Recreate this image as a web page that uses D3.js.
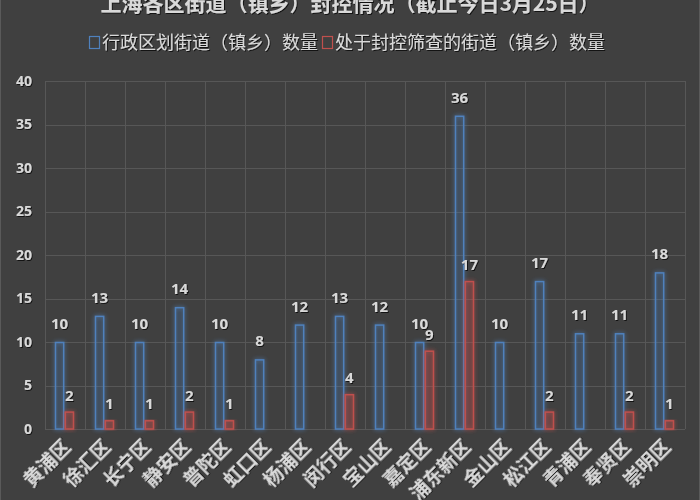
<!DOCTYPE html>
<html>
<head>
<meta charset="utf-8">
<script src="https://cdn.jsdelivr.net/npm/d3@7"></script>
<style>
  html, body { margin: 0; padding: 0; background: #404040; }
  svg { display: block; }
</style>
</head>
<body>
<div id="chart"></div>
<script>
// données
const districts = ["黄浦区", "徐汇区", "长宁区", "静安区", "普陀区", "虹口区", "杨浦区", "闵行区",
  "宝山区", "嘉定区", "浦东新区", "金山区", "松江区", "青浦区", "奉贤区", "崇明区"];
const totalStreets = [10, 13, 10, 14, 10, 8, 12, 13, 12, 10, 36, 10, 17, 11, 11, 18];
const lockedStreets = [2, 1, 1, 2, 1, 0, 0, 4, 0, 9, 17, 0, 2, 0, 2, 1];
const seriesNames = ["行政区划街道（镇乡）数量", "处于封控筛查的街道（镇乡）数量"];
const yTicks = [0, 5, 10, 15, 20, 25, 30, 35, 40];
const title = "上海各区街道（镇乡）封控情况（截止今日3月25日）";

const W = 700, H = 500;
const margin = { top: 81, right: 15, bottom: 71, left: 45 };
const width = W - margin.left - margin.right,
      height = H - margin.top - margin.bottom;

const blue = "#4f81bd", red = "#c0504d";
const cjk = "'Noto Sans CJK SC', 'Noto Sans', sans-serif";

const svg = d3.select("#chart").append("svg")
  .attr("width", W).attr("height", H);

svg.append("rect").attr("width", W).attr("height", H).attr("fill", "#404040");
svg.append("rect").attr("x", 0.5).attr("y", -1).attr("width", W - 1).attr("height", H + 2)
  .attr("fill", "none").attr("stroke", "#5a5a5a");

// effet de lueur
const defs = svg.append("defs");
const glow = defs.append("filter").attr("id", "glow")
  .attr("x", "-100%").attr("y", "-20%").attr("width", "300%").attr("height", "140%");
glow.append("feGaussianBlur").attr("in", "SourceGraphic").attr("stdDeviation", 2).attr("result", "blur");
const merge = glow.append("feMerge");
merge.append("feMergeNode").attr("in", "blur");
merge.append("feMergeNode").attr("in", "SourceGraphic");

const txtShadow = defs.append("filter").attr("id", "shadow");
txtShadow.append("feDropShadow").attr("dx", 1).attr("dy", 1).attr("stdDeviation", 0.6)
  .attr("flood-color", "#000").attr("flood-opacity", 0.7);

const g = svg.append("g").attr("transform", "translate(" + margin.left + "," + margin.top + ")");

// échelles
const x = d3.scaleBand().domain(districts).range([0, width]).padding(0);
const y = d3.scaleLinear().domain([0, 40]).range([height, 0]);
const sub = d3.scaleBand().domain([0, 1]).range([10, 29]).paddingInner(0.06);

// grille
g.append("g").selectAll("line").data(yTicks).join("line")
  .attr("x1", 0).attr("x2", width)
  .attr("y1", d => Math.round(y(d)) + 0.5).attr("y2", d => Math.round(y(d)) + 0.5)
  .attr("stroke", "#575757").attr("stroke-width", 1);
g.append("g").selectAll("line").data(d3.range(districts.length + 1)).join("line")
  .attr("x1", i => i * x.bandwidth() + 0.5).attr("x2", i => i * x.bandwidth() + 0.5)
  .attr("y1", 0).attr("y2", height)
  .attr("stroke", "#575757").attr("stroke-width", 1);

// axe y
const yAxis = g.append("g").call(d3.axisLeft(y).tickValues(yTicks).tickSize(0).tickPadding(13));
yAxis.select(".domain").remove();
yAxis.selectAll("text")
  .attr("fill", "#d9d9d9").style("font-family", "'Open Sans', sans-serif")
  .style("font-size", "14px").style("font-weight", "bold")
  .attr("filter", "url(#shadow)");

// axe x
const xAxis = g.append("g").attr("transform", "translate(0," + height + ")")
  .call(d3.axisBottom(x).tickSize(0).tickPadding(0));
xAxis.select(".domain").remove();
xAxis.selectAll("text")
  .attr("fill", "#d9d9d9").style("font-family", cjk)
  .style("font-size", "19px").style("font-weight", "bold")
  .attr("text-anchor", "end")
  .attr("dy", 0).attr("y", 0)
  .attr("transform", "translate(7,19) rotate(-45)")
  .attr("filter", "url(#shadow)");

// barres
function drawBars(values, idx, color) {
  const rows = values.map((v, i) => ({ name: districts[i], value: v })).filter(d => d.value > 0);
  const grp = g.append("g");
  grp.selectAll("rect").data(rows).join("rect")
    .attr("x", d => x(d.name) + sub(idx) + 0.5)
    .attr("y", d => y(d.value) + 0.5)
    .attr("width", sub.bandwidth() - 1)
    .attr("height", d => height - y(d.value) - 0.5)
    .attr("fill", color).attr("fill-opacity", idx === 0 ? 0.08 : 0.15)
    .attr("stroke", color).attr("stroke-width", 1.5)
    .attr("filter", "url(#glow)");
  grp.selectAll("text").data(rows).join("text")
    .attr("x", d => x(d.name) + sub(idx) + sub.bandwidth() / 2)
    .attr("y", d => y(d.value) - (idx === 0 ? 13 : 11))
    .attr("text-anchor", "middle")
    .attr("fill", "#d9d9d9")
    .style("font-family", "'Open Sans', sans-serif")
    .style("font-size", "15px").style("font-weight", "bold")
    .attr("filter", "url(#shadow)")
    .text(d => d.value);
}
drawBars(totalStreets, 0, blue);
drawBars(lockedStreets, 1, red);

// titre
svg.append("text").attr("x", W / 2).attr("y", 11)
  .attr("text-anchor", "middle").attr("fill", "#d9d9d9")
  .style("font-family", cjk).style("font-size", "21px").style("font-weight", "bold")
  .attr("filter", "url(#shadow)")
  .text(title);

// légende
const legend = svg.append("g").attr("transform", "translate(89,43)");
let lx = 0;
seriesNames.forEach((name, i) => {
  const col = i === 0 ? blue : red;
  legend.append("rect").attr("x", lx + 0.5).attr("y", -6.5).attr("width", 10).attr("height", 12)
    .attr("fill", "none").attr("stroke", col).attr("stroke-width", 1.2);
  const t = legend.append("text").attr("x", lx + 13).attr("y", 0).attr("dy", "0.35em")
    .attr("fill", "#d9d9d9").style("font-family", cjk).style("font-size", "18px")
    .attr("filter", "url(#shadow)")
    .text(name);
  lx += 13 + t.node().getComputedTextLength() + 4;
});
</script>
</body>
</html>
